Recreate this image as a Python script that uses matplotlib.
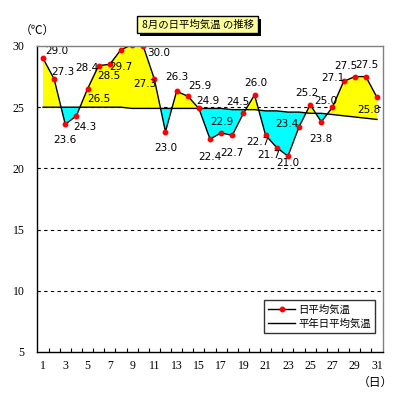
import matplotlib.pyplot as plt
import numpy as np
from matplotlib.patches import Rectangle
from matplotlib.lines import Line2D

plt.rcParams['font.family'] = ['Noto Sans CJK JP', 'DejaVu Sans']

days = list(range(1, 32))
temp = [29.0, 27.3, 23.6, 24.3, 26.5, 28.4, 28.5, 29.7, 30.1, 30.0,
        27.3, 23.0, 26.3, 25.9, 24.9, 22.4, 22.9, 22.7, 24.5, 26.0,
        22.7, 21.7, 21.0, 23.4, 25.2, 23.8, 25.0, 27.1, 27.5, 27.5, 25.8]
normal = [25.0, 25.0, 25.0, 25.0, 25.0, 25.0, 25.0, 25.0, 24.9, 24.9,
          24.9, 24.9, 24.9, 24.9, 24.9, 24.9, 24.9, 24.8, 24.8, 24.8,
          24.7, 24.7, 24.6, 24.6, 24.5, 24.5, 24.4, 24.3, 24.2, 24.1, 24.0]
xlabels = [str(d) for d in range(1, 32, 2)]
yticks = [5, 10, 15, 20, 25, 30]

# label offsets in pixels (dx, dy)
offs = [(14, 7), (9, 7), (0, -16), (8, -11), (11, -10), (-12, -2), (-1, -12),
        (0, -17), (0, -12), (15, -7), (-9, -5), (0, -16), (0, 14), (12, 10),
        (9, 7), (0, -18), (1, 11), (0, -18), (-6, 11), (1, 12), (-8, -7),
        (-8, -7), (0, -7), (-12, 3), (-3, 12), (0, -17), (-7, 6), (-11, 3),
        (-9, 11), (1, 12), (-8, -13)]

fig = plt.figure(figsize=(3.99, 4.0), dpi=100)
ax = fig.add_axes([37/399, 1-352/400, 346/399, 306/400])

x = np.array(days)
t = np.array(temp)
n = np.array(normal)
ax.fill_between(x, t, n, where=t >= n, interpolate=True, color='#ffff00', lw=0, zorder=2)
ax.fill_between(x, t, n, where=t <= n, interpolate=True, color='#00ffff', lw=0, zorder=2)

for yv in [10, 15, 20, 25]:
    ax.axhline(yv, color='black', lw=0.8, ls=(0, (3, 3)), zorder=1)

ax.plot(x, n, color='black', lw=1, zorder=3)
ax.plot(x, t, color='black', lw=1, zorder=4)
ax.plot(x, t, 'o', color='red', ms=3.2, mec='red', zorder=5)

for d, v, o in zip(days, temp, offs):
    ax.annotate(f'{v:.1f}', (d, v), xytext=o, textcoords='offset pixels',
                ha='center', va='center', fontsize=7.5, family='DejaVu Sans', zorder=6)

ax.set_xlim(0.46, 31.54)
ax.set_ylim(5, 30)
ax.set_yticks(yticks)
ax.set_yticklabels([str(v) for v in yticks], fontsize=8.5, family='Liberation Serif')
ax.tick_params(axis='y', length=0, pad=9)
ax.set_xticks(np.arange(1.5, 31.5, 1))
ax.set_xticklabels([])
ax.set_xticks(range(1, 32, 2), minor=True)
ax.set_xticklabels(xlabels, minor=True, fontsize=8.5, family='Liberation Serif')
ax.tick_params(axis='x', which='major', direction='in', length=3, width=0.8)
ax.tick_params(axis='x', which='minor', length=0, pad=6)

ax.spines['left'].set_color('black')
ax.spines['bottom'].set_color('black')
ax.spines['top'].set_color('#808080')
ax.spines['right'].set_color('#808080')
for s in ax.spines.values():
    s.set_linewidth(1)
    s.set_zorder(7)

# legend
h1 = Line2D([], [], color='black', lw=1, marker='o', ms=3.2, mfc='red', mec='red')
h2 = Line2D([], [], color='black', lw=1)
leg = ax.legend([h1, h2], ['日平均気温', '平年日平均気温'], loc='lower right',
                bbox_to_anchor=(375/399, 1-333/400), bbox_transform=fig.transFigure,
                fontsize=7.5, frameon=True, fancybox=False, edgecolor='black',
                handlelength=2.6, handletextpad=0.3, borderpad=0.4, labelspacing=0.4,
                borderaxespad=0)
leg.get_frame().set_linewidth(1)

# title box with shadow
fig.patches.append(Rectangle((140/399, 1-36/400), 121/399, 17/400, transform=fig.transFigure,
                             facecolor='black', edgecolor='none'))
fig.patches.append(Rectangle((137/399, 1-33/400), 121/399, 17/400, transform=fig.transFigure,
                             facecolor='#ffff99', edgecolor='black', lw=1))
fig.text(197.5/399, 1-24.5/400, '8月の日平均気温 の推移', ha='center', va='center', fontsize=7.5)

fig.text(37/399, 1-30/400, '（℃）', ha='center', va='center', fontsize=8.5)
fig.text(375/399, 1-382/400, '（日）', ha='center', va='center', fontsize=8.5)

fig.savefig('out.png', dpi=100)
